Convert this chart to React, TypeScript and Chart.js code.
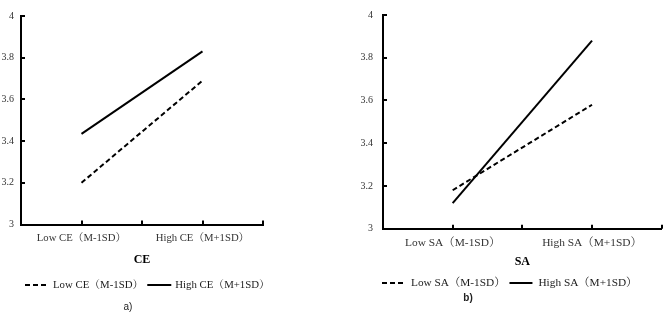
import React, { useEffect, useRef } from 'react';
import { Chart, registerables } from 'chart.js';

Chart.register(...registerables);

// ---------- data ----------
const ceCategories = ['Low CE（M-1SD）', 'High CE（M+1SD）'];
const ceSeriesLabels = ['Low CE（M-1SD）', 'High CE（M+1SD）'];
const ceLowSeries = [3.2, 3.69];
const ceHighSeries = [3.435, 3.83];

const saCategories = ['Low SA（M-1SD）', 'High SA（M+1SD）'];
const saSeriesLabels = ['Low SA（M-1SD）', 'High SA（M+1SD）'];
const saLowSeries = [3.18, 3.58];
const saHighSeries = [3.12, 3.88];

const yMin = 3;
const yMax = 4;
const yStep = 0.2;

const axisTitles = ['CE', 'SA'];
const captions = ['a)', 'b)'];

// ---------- styles ----------
const SERIF = "'Liberation Serif', 'Times New Roman', 'Noto Serif CJK SC', 'Noto Sans CJK SC', serif";
const SANS = "'Liberation Sans', Arial, sans-serif";

const panelExtras = {
  id: 'panelExtras',
  afterDraw(chart: any, _args: any, opts: any) {
    const { ctx, chartArea, scales } = chart;
    const xs = scales.x;
    const ys = scales.y;
    ctx.save();
    // inward tick marks
    ctx.strokeStyle = '#000';
    ctx.lineWidth = 2;
    ctx.setLineDash([]);
    ctx.beginPath();
    xs.ticks.forEach((t: any) => {
      const px = Math.round(xs.getPixelForValue(t.value));
      ctx.moveTo(px, chartArea.bottom);
      ctx.lineTo(px, chartArea.bottom - opts.tickLen);
    });
    ys.ticks.forEach((t: any) => {
      const py = Math.round(ys.getPixelForValue(t.value));
      ctx.moveTo(chartArea.left, py);
      ctx.lineTo(chartArea.left + opts.tickLen, py);
    });
    ctx.stroke();

    // legend
    let x = opts.legendX;
    const y = opts.legendY;
    ctx.font = `${opts.legendFontSize}px ${SERIF}`;
    ctx.textBaseline = 'middle';
    ctx.textAlign = 'left';
    ctx.fillStyle = '#1a1a1a';
    chart.data.datasets.forEach((ds: any) => {
      ctx.setLineDash(ds.borderDash || []);
      ctx.lineWidth = 2;
      ctx.beginPath();
      ctx.moveTo(x, y);
      ctx.lineTo(x + opts.lineLen, y);
      ctx.stroke();
      ctx.setLineDash([]);
      x += opts.lineLen + opts.textGap;
      ctx.fillText(ds.label, x, y);
      x += ctx.measureText(ds.label).width + opts.itemGap;
    });

    // caption
    ctx.font = `${opts.captionWeight} 10px ${SANS}`;
    ctx.textAlign = 'center';
    ctx.fillStyle = '#222';
    ctx.fillText(opts.caption, opts.captionX, opts.captionY);
    ctx.restore();
  },
};

type Layout = {
  width: number;
  height: number;
  left: number;
  padTop: number;
  padRight: number;
  padBottom: number;
  xAxisHeight: number;
  yAxisWidth: number;
  yLabelPad: number;
  xLabelPad: number;
  catFont: number;
  legendX: number;
  legendY: number;
  legendFontSize: number;
  lineLen: number;
  textGap: number;
  itemGap: number;
  captionX: number;
  captionY: number;
  captionWeight: string;
};

type PanelProps = {
  categories: string[];
  seriesLabels: string[];
  low: number[];
  high: number[];
  title: string;
  caption: string;
  L: Layout;
};

function Panel({ categories, seriesLabels, low, high, title, caption, L }: PanelProps) {
  const ref = useRef<HTMLCanvasElement | null>(null);

  useEffect(() => {
    if (!ref.current) return;
    const toPoints = (vals: number[]) => vals.map((v, i) => ({ x: 2 * i + 1, y: v }));
    const chart = new Chart(ref.current, {
      type: 'line',
      data: {
        datasets: [
          {
            label: seriesLabels[0],
            data: toPoints(low),
            borderColor: '#000',
            borderWidth: 2,
            borderDash: [5, 3],
            pointRadius: 0,
            fill: false,
            tension: 0,
          },
          {
            label: seriesLabels[1],
            data: toPoints(high),
            borderColor: '#000',
            borderWidth: 2,
            pointRadius: 0,
            fill: false,
            tension: 0,
          },
        ],
      },
      options: {
        responsive: false,
        animation: false,
        events: [],
        layout: { padding: { left: 0, top: L.padTop, right: L.padRight, bottom: L.padBottom } },
        plugins: {
          legend: { display: false },
          tooltip: { enabled: false },
          panelExtras: {
            tickLen: 4,
            legendX: L.legendX,
            legendY: L.legendY,
            legendFontSize: L.legendFontSize,
            lineLen: L.lineLen,
            textGap: L.textGap,
            itemGap: L.itemGap,
            caption,
            captionX: L.captionX,
            captionY: L.captionY,
            captionWeight: L.captionWeight,
          },
        } as any,
        scales: {
          x: {
            type: 'linear',
            min: 0,
            max: 2 * categories.length,
            ticks: {
              stepSize: 1,
              autoSkip: false,
              maxRotation: 0,
              minRotation: 0,
              padding: L.xLabelPad,
              color: '#333',
              font: { family: SERIF, size: L.catFont, lineHeight: 1.2 },
              callback: (v: any) => {
                const n = Math.round(Number(v));
                return n % 2 === 1 ? categories[(n - 1) / 2] : '';
              },
            },
            grid: { drawOnChartArea: false, drawTicks: false },
            border: { display: true, color: '#000', width: 2 },
            title: {
              display: true,
              text: title,
              color: '#000',
              font: { family: SERIF, size: 12, weight: 'bold', lineHeight: 1.2 },
              padding: 0,
            },
            afterFit: (s: any) => {
              s.height = L.xAxisHeight;
            },
          },
          y: {
            type: 'linear',
            min: yMin,
            max: yMax,
            ticks: {
              stepSize: yStep,
              padding: L.yLabelPad,
              color: '#333',
              font: { family: SERIF, size: 10, lineHeight: 1 },
              callback: (v: any) => String(Number(Number(v).toFixed(1))),
            },
            grid: { drawOnChartArea: false, drawTicks: false },
            border: { display: true, color: '#000', width: 2 },
            afterFit: (s: any) => {
              s.width = L.yAxisWidth;
            },
          },
        },
      } as any,
      plugins: [panelExtras as any],
    });
    return () => chart.destroy();
  }, []);

  return (
    <div style={{ position: 'absolute', left: L.left, top: 0, width: L.width, height: L.height }}>
      <canvas ref={ref} width={L.width} height={L.height} style={{ display: 'block' }} />
    </div>
  );
}

const leftLayout: Layout = {
  width: 335,
  height: 313,
  left: 0,
  padTop: 16,
  padRight: 72,
  padBottom: 45.5,
  xAxisHeight: 43,
  yAxisWidth: 21,
  yLabelPad: 7,
  xLabelPad: 7,
  catFont: 10.7,
  legendX: 25,
  legendY: 285,
  legendFontSize: 10.8,
  lineLen: 24,
  textGap: 4,
  itemGap: 4,
  captionX: 128,
  captionY: 307,
  captionWeight: 'normal',
};

const rightLayout: Layout = {
  width: 334,
  height: 313,
  left: 335,
  padTop: 5,
  padRight: 4,
  padBottom: 44.1,
  xAxisHeight: 40.2,
  yAxisWidth: 48,
  yLabelPad: 10,
  xLabelPad: 7.3,
  catFont: 11.4,
  legendX: 47,
  legendY: 283,
  legendFontSize: 11.3,
  lineLen: 23,
  textGap: 6,
  itemGap: 4,
  captionX: 133,
  captionY: 298,
  captionWeight: 'bold',
};

export default function App() {
  return (
    <div style={{ position: 'absolute', left: 0, top: 0, width: 669, height: 313, background: '#fff', overflow: 'hidden' }}>
      <Panel
        categories={ceCategories}
        seriesLabels={ceSeriesLabels}
        low={ceLowSeries}
        high={ceHighSeries}
        title={axisTitles[0]}
        caption={captions[0]}
        L={leftLayout}
      />
      <Panel
        categories={saCategories}
        seriesLabels={saSeriesLabels}
        low={saLowSeries}
        high={saHighSeries}
        title={axisTitles[1]}
        caption={captions[1]}
        L={rightLayout}
      />
    </div>
  );
}
